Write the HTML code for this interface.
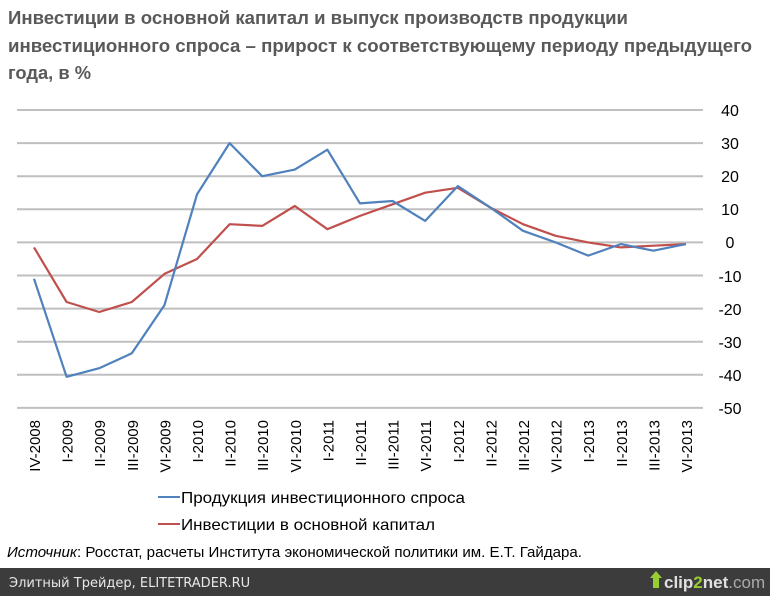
<!DOCTYPE html>
<html><head><meta charset="utf-8"><style>
html,body{margin:0;padding:0;background:#fff;}
svg{display:block;font-family:"Liberation Sans",sans-serif;}
</style></head><body>
<svg width="770" height="596" viewBox="0 0 770 596" xmlns="http://www.w3.org/2000/svg">
<rect width="770" height="596" fill="#fff"/>
<g fill="#595959" font-weight="bold" font-size="18">
<text x="8" y="24" textLength="620" lengthAdjust="spacingAndGlyphs">Инвестиции в основной капитал и выпуск производств продукции</text>
<text x="8" y="52" textLength="744" lengthAdjust="spacingAndGlyphs">инвестиционного спроса – прирост к соответствующему периоду предыдущего</text>
<text x="8" y="79" textLength="83" lengthAdjust="spacingAndGlyphs">года, в %</text>
</g>
<g stroke="#bfbfbf" stroke-width="2">
<line x1="17" x2="703" y1="110" y2="110"/><line x1="17" x2="703" y1="143.1" y2="143.1"/>
<line x1="17" x2="703" y1="176.2" y2="176.2"/><line x1="17" x2="703" y1="209.3" y2="209.3"/>
<line x1="17" x2="703" y1="242.4" y2="242.4"/><line x1="17" x2="703" y1="275.5" y2="275.5"/>
<line x1="17" x2="703" y1="308.6" y2="308.6"/><line x1="17" x2="703" y1="341.7" y2="341.7"/>
<line x1="17" x2="703" y1="374.8" y2="374.8"/><line x1="17" x2="703" y1="407.9" y2="407.9"/>
</g>
<g fill="#000" font-size="16" text-anchor="middle">
<text x="730" y="116">40</text><text x="730" y="149">30</text><text x="730" y="182">20</text>
<text x="730" y="215">10</text><text x="730" y="248">0</text><text x="730" y="282">-10</text>
<text x="730" y="315">-20</text><text x="730" y="348">-30</text><text x="730" y="381">-40</text>
<text x="730" y="414">-50</text>
</g>
<g fill="#000" font-size="15" text-anchor="end" id="cats"></g>
<g fill="#000" font-size="15" text-anchor="end">
<text transform="translate(40,420) rotate(-90)">IV-2008</text>
<text transform="translate(72.6,420) rotate(-90)">I-2009</text>
<text transform="translate(105.2,420) rotate(-90)">II-2009</text>
<text transform="translate(137.8,420) rotate(-90)">III-2009</text>
<text transform="translate(170.4,420) rotate(-90)">VI-2009</text>
<text transform="translate(203,420) rotate(-90)">I-2010</text>
<text transform="translate(235.6,420) rotate(-90)">II-2010</text>
<text transform="translate(268.2,420) rotate(-90)">III-2010</text>
<text transform="translate(300.8,420) rotate(-90)">VI-2010</text>
<text transform="translate(333.4,420) rotate(-90)">I-2011</text>
<text transform="translate(366,420) rotate(-90)">II-2011</text>
<text transform="translate(398.6,420) rotate(-90)">III-2011</text>
<text transform="translate(431.2,420) rotate(-90)">VI-2011</text>
<text transform="translate(463.8,420) rotate(-90)">I-2012</text>
<text transform="translate(496.4,420) rotate(-90)">II-2012</text>
<text transform="translate(529,420) rotate(-90)">III-2012</text>
<text transform="translate(561.6,420) rotate(-90)">VI-2012</text>
<text transform="translate(594.2,420) rotate(-90)">I-2013</text>
<text transform="translate(626.8,420) rotate(-90)">II-2013</text>
<text transform="translate(659.4,420) rotate(-90)">III-2013</text>
<text transform="translate(692,420) rotate(-90)">VI-2013</text>
</g>
<polyline fill="none" stroke="#c0504d" stroke-width="2.2" stroke-linejoin="round" points="34,247.4 66.6,302 99.2,312 131.8,302 164.4,273.9 197,259 229.6,224.2 262.2,225.9 294.8,206 327.4,229.2 360,215.9 392.6,204.3 425.2,192.7 457.8,187.8 490.4,207.6 523,224.2 555.6,235.8 588.2,242.4 620.8,247.4 653.4,245.7 686,244.1"/>
<polyline fill="none" stroke="#4f81bd" stroke-width="2.2" stroke-linejoin="round" points="34,278.8 66.6,376.8 99.2,368.2 131.8,353.3 164.4,305.3 197,194.4 229.6,143.1 262.2,176.2 294.8,169.6 327.4,149.7 360,203.4 392.6,201 425.2,220.9 457.8,186.1 490.4,207.6 523,230.8 555.6,242.4 588.2,255.6 620.8,244.1 653.4,250.7 686,244.1"/>
<line x1="158" x2="180" y1="497" y2="497" stroke="#4f81bd" stroke-width="2"/>
<line x1="158" x2="180" y1="524" y2="524" stroke="#c0504d" stroke-width="2"/>
<g fill="#000" font-size="16">
<text x="181" y="503" textLength="284" lengthAdjust="spacingAndGlyphs">Продукция инвестиционного спроса</text>
<text x="181" y="530" textLength="254" lengthAdjust="spacingAndGlyphs">Инвестиции в основной капитал</text>
<text x="7" y="557" font-size="15" textLength="575" lengthAdjust="spacingAndGlyphs"><tspan font-style="italic">Источник</tspan>: Росстат, расчеты Института экономической политики им. Е.Т. Гайдара.</text>
</g>
<rect x="0" y="568" width="770" height="28" fill="#3c3c3c"/>
<text x="9" y="587" fill="#e8e8e8" font-size="13" font-family="DejaVu Sans,sans-serif">Элитный Трейдер, ELITETRADER.RU</text>
<polygon points="650,578 656,571 662,578 659,578 659,588 653,588 653,578" fill="#9acd32"/>
<text x="664" y="588" fill="#e0e0e0" font-size="17" font-weight="bold">clip<tspan fill="#9acd32">2</tspan>net<tspan fill="#aaa" font-weight="normal">.com</tspan></text>
</svg>
</body></html>
